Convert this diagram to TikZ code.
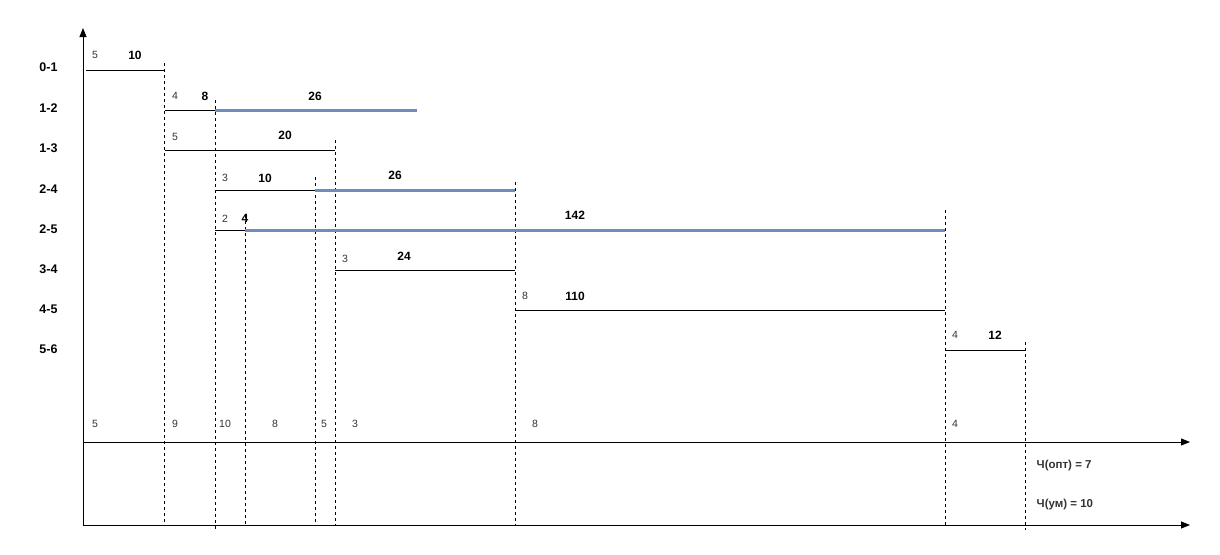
\documentclass[tikz,border=0pt]{standalone}
\usepackage{fontspec}
\setmainfont{Liberation Sans}
\usetikzlibrary{arrows.meta}
\definecolor{crit}{RGB}{108,142,191}
\definecolor{txtgray}{RGB}{51,51,51}
\begin{document}
\begin{tikzpicture}[x=1pt,y=-1pt,
  small/.style={font=\fontsize{10.5}{12}\selectfont, text=txtgray, inner sep=0pt},
  big/.style={font=\fontsize{12}{14}\selectfont\bfseries, inner sep=0pt},
  rowlab/.style={font=\fontsize{12.5}{14}\selectfont\bfseries, inner sep=0pt},
  reslab/.style={font=\fontsize{11.5}{14}\selectfont\bfseries, text=txtgray, inner sep=0pt, anchor=west},
  vline/.style={dash pattern=on 3pt off 3pt, line width=0.9pt},
  work/.style={line width=1pt},
  critl/.style={line width=3pt, crit},
  axis/.style={line width=1pt, -{Triangle[length=9pt,width=7pt]}}]
\useasboundingbox (0,0) rectangle (1220,554);

% axes
\coordinate (o) at (83,525);
\coordinate (ytop) at (83,28);
\coordinate (a1l) at (83,442);
\coordinate (a1r) at (1190,442);
\coordinate (a2r) at (1190,525);
\draw[axis] (o) -- (ytop);
\draw[axis] (a1l) -- (a1r);
\draw[axis] (o) -- (a2r);

% dashed verticals
\draw[vline] (164,63) -- (164,525);
\draw[vline] (215,100) -- (215,530);
\draw[vline] (245,215) -- (245,525);
\draw[vline] (315,177) -- (315,525);
\draw[vline] (335,140) -- (335,525);
\draw[vline] (515,182) -- (515,525);
\draw[vline] (945,210) -- (945,525);
\draw[vline] (1025,342) -- (1025,530);

% work segments
\draw[work] (86,70) -- (164,70);
\draw[work] (165,110) -- (215,110);
\draw[critl] (215,110) -- (417,110);
\draw[work] (165,150) -- (335,150);
\draw[work] (215,190) -- (315,190);
\draw[critl] (315,190) -- (515,190);
\draw[work] (215,230) -- (245,230);
\draw[critl] (245,230) -- (945,230);
\draw[work] (335,270) -- (515,270);
\draw[work] (515,310) -- (945,310);
\draw[work] (945,350) -- (1025,350);

% row labels
\node[rowlab] (r01) at (48.5,67) {0-1};
\node[rowlab] (r12) at (48.5,108) {1-2};
\node[rowlab] (r13) at (48.5,148) {1-3};
\node[rowlab] (r24) at (48.5,189) {2-4};
\node[rowlab] (r25) at (48.5,229) {2-5};
\node[rowlab] (r34) at (48.5,269) {3-4};
\node[rowlab] (r45) at (48.5,309) {4-5};
\node[rowlab] (r56) at (48.5,349) {5-6};

% labels above segments
\node[small] (t01a) at (95,55) {5};
\node[big] (t01b) at (135,55) {10};
\node[small] (t12a) at (175,96) {4};
\node[big] (t12b) at (205,96) {8};
\node[big] (t12c) at (315,96) {26};
\node[small] (t13a) at (175,137) {5};
\node[big] (t13b) at (285,135) {20};
\node[small] (t24a) at (225,178) {3};
\node[big] (t24b) at (265,178) {10};
\node[big] (t24c) at (395,175) {26};
\node[small] (t25a) at (225,219) {2};
\node[big] (t25b) at (245,218) {4};
\node[big] (t25c) at (575,215) {142};
\node[small] (t34a) at (345,259) {3};
\node[big] (t34b) at (404,256) {24};
\node[small] (t45a) at (525,296) {8};
\node[big] (t45b) at (575,296) {110};
\node[small] (t56a) at (955,335) {4};
\node[big] (t56b) at (995,335) {12};

% bottom labels
\node[small] (b1) at (95,424) {5};
\node[small] (b2) at (175,424) {9};
\node[small] (b3) at (225,424) {10};
\node[small] (b4) at (275,424) {8};
\node[small] (b5) at (324,424) {5};
\node[small] (b6) at (355,424) {3};
\node[small] (b7) at (535,424) {8};
\node[small] (b8) at (955,424) {4};

\node[reslab] (copt) at (1036.5,466) {Ч(опт) = 7};
\node[reslab] (cum) at (1036.5,505) {Ч(ум) = 10};
\end{tikzpicture}
\end{document}
